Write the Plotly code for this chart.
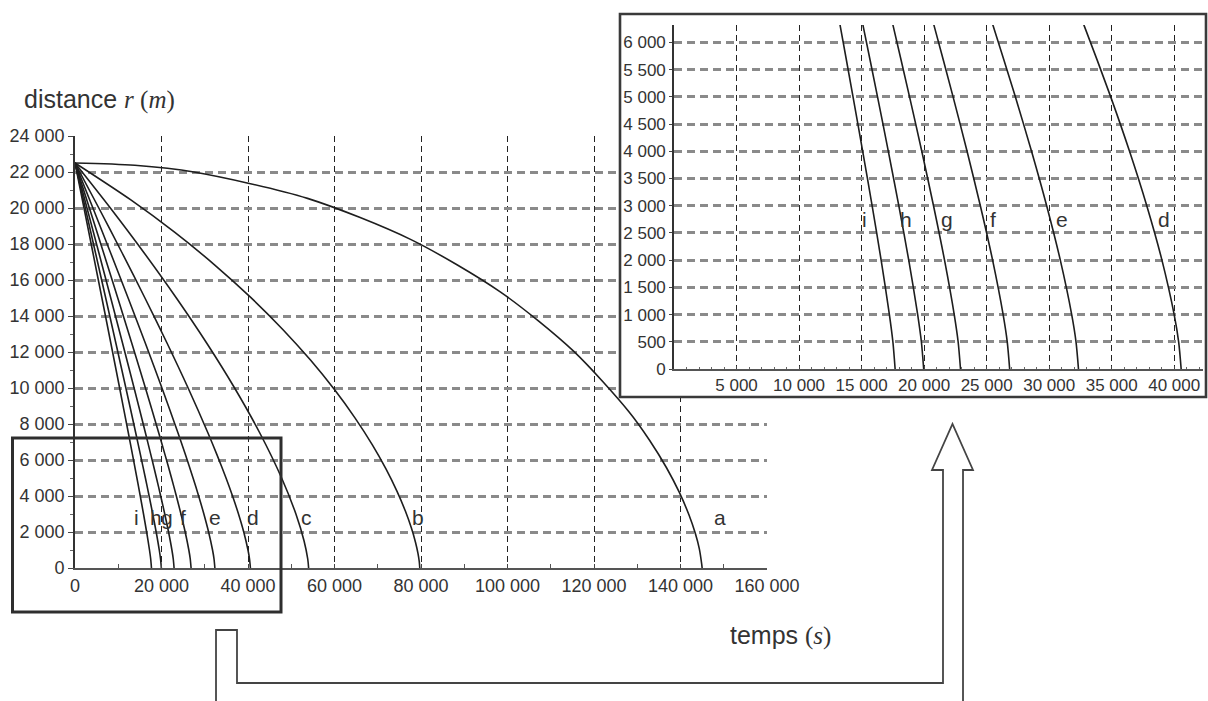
import plotly.graph_objects as go

# ---------------- data ----------------
curve_names = ["a", "b", "c", "d", "e", "f", "g", "h", "i"]

t_a = [0, 13821, 27486, 53754, 77694, 98404, 115271, 128026, 132878, 136767,
       139761, 141948, 143435, 144343, 144909, 145000]
r_a = [22500, 22374, 21998, 20535, 18243, 15327, 12046, 8694, 7085, 5570,
       4183, 2954, 1912, 1079, 204, 0]

t_b = [0, 12914, 23092, 32327, 40623, 47990, 54449, 60030, 64770, 68718,
       71928, 74461, 76387, 77782, 78724, 79299, 79596, 79722]
r_b = [22500, 20447, 18642, 16832, 15034, 13268, 11550, 9897, 8327, 6854,
       5494, 4259, 3164, 2217, 1430, 809, 361, 0]

t_c = [0, 8174, 16003, 23440, 30436, 36901, 42730, 47776, 51079, 52967, 53813, 54016]
r_c = [22500, 20000, 17500, 15000, 12500, 10000, 7500, 5000, 3000, 1500, 500, 0]

r_d_to_i = [22500, 20000, 17500, 15000, 12500, 10000, 7500, 6300, 5000, 4000,
            3000, 2000, 1000, 500, 0]
t_d = [0, 5507, 10906, 16171, 21270, 26152, 30744, 32811, 34920, 36426, 37804, 39017, 39995, 40353, 40554]
t_e = [0, 4146, 8245, 12285, 16248, 20107, 23817, 25524, 27296, 28589, 29799, 30890, 31801, 32146, 32343]
t_f = [0, 3323, 6621, 9889, 13115, 16284, 19369, 20806, 22317, 23434, 24496, 25476, 26318, 26647, 26840]
t_g = [0, 2772, 5530, 8269, 10984, 13664, 16293, 17528, 18836, 19813, 20752, 21632, 22408, 22720, 22909]
t_h = [0, 2377, 4745, 7101, 9443, 11762, 14047, 15126, 16275, 17138, 17975, 18770, 19485, 19781, 19965]
t_i = [0, 2081, 4156, 6222, 8279, 10320, 12338, 13294, 14316, 15088, 15841, 16563, 17223, 17502, 17681]

curves_t = [t_a, t_b, t_c, t_d, t_e, t_f, t_g, t_h, t_i]
curves_r = [r_a, r_b, r_c] + [r_d_to_i] * 6

# curve label positions
main_label_names = ["a", "b", "c", "d", "e", "f", "g", "h", "i"]
main_label_t = [149200, 79300, 53570, 41160, 32370, 24970, 21200, 18730, 14260]
main_label_r = 2830
inset_label_names = ["d", "e", "f", "g", "h", "i"]
inset_label_t = [39200, 31010, 25520, 21810, 18540, 15200]
inset_label_r = 2750

# tick labels
main_x_ticks = [0, 20000, 40000, 60000, 80000, 100000, 120000, 140000, 160000]
main_x_text = ["0", "20 000", "40 000", "60 000", "80 000", "100 000", "120 000", "140 000", "160 000"]
main_y_ticks = [0, 2000, 4000, 6000, 8000, 10000, 12000, 14000, 16000, 18000, 20000, 22000, 24000]
main_y_text = ["0", "2 000", "4 000", "6 000", "8 000", "10 000", "12 000", "14 000",
               "16 000", "18 000", "20 000", "22 000", "24 000"]
inset_x_ticks = [5000, 10000, 15000, 20000, 25000, 30000, 35000, 40000]
inset_x_text = ["5 000", "10 000", "15 000", "20 000", "25 000", "30 000", "35 000", "40 000"]
inset_y_ticks = [0, 500, 1000, 1500, 2000, 2500, 3000, 3500, 4000, 4500, 5000, 5500, 6000]
inset_y_text = ["0", "500", "1 000", "1 500", "2 000", "2 500", "3 000", "3 500", "4 000",
                "4 500", "5 000", "5 500", "6 000"]

# ---------------- figure ----------------
W, H = 1208, 701
def px(x):
    return x / W
def py(y):
    return (H - y) / H

fig = go.Figure()
LINE = dict(color="#1e1e1e", width=1.6, shape="spline", smoothing=0.8)

for name, tt, rr in zip(curve_names, curves_t, curves_r):
    fig.add_trace(go.Scatter(x=tt, y=rr, mode="lines", line=LINE, name=name,
                             xaxis="x", yaxis="y", showlegend=False, hoverinfo="skip"))
for name, tt, rr in zip(curve_names[3:], curves_t[3:], curves_r[3:]):
    fig.add_trace(go.Scatter(x=tt, y=rr, mode="lines", line=LINE, name=name,
                             xaxis="x2", yaxis="y2", showlegend=False, hoverinfo="skip"))

TXT = "#333333"
FONT = "Liberation Sans, Arial, sans-serif"
annotations = []
for n, t in zip(main_label_names, main_label_t):
    annotations.append(dict(x=t, y=main_label_r, xref="x", yref="y", text=n, showarrow=False,
                            font=dict(family=FONT, size=21, color=TXT)))
for n, t in zip(inset_label_names, inset_label_t):
    annotations.append(dict(x=t, y=inset_label_r, xref="x2", yref="y2", text=n, showarrow=False,
                            font=dict(family=FONT, size=21, color=TXT)))
SERIF = "font-family:'Liberation Serif', 'DejaVu Serif', serif"
annotations.append(dict(x=px(22), y=py(100), xref="paper", yref="paper", xanchor="left", yanchor="middle",
                        text=f"distance <span style=\"{SERIF}\"><i>r</i> (<i>m</i>)</span>", showarrow=False,
                        font=dict(family=FONT, size=25, color=TXT)))
annotations.append(dict(x=px(728), y=py(635), xref="paper", yref="paper", xanchor="left", yanchor="middle",
                        text=f"temps <span style=\"{SERIF}\">(<i>s</i>)</span>", showarrow=False,
                        font=dict(family=FONT, size=25, color=TXT)))

shapes = [
    # white background of the inset, hides the main grid under it
    dict(type="rect", xref="x", yref="y", layer="between", x0=126000, x1=175000, y0=9500, y1=27000,
         fillcolor="white", line=dict(width=0)),
    # inset frame
    dict(type="rect", xref="paper", yref="paper", layer="above",
         x0=px(620), x1=px(1206), y0=py(397), y1=py(14),
         line=dict(color="#3a3a3a", width=2.6), fillcolor="rgba(0,0,0,0)"),
    # zoom rectangle on the main chart
    dict(type="rect", xref="paper", yref="paper", layer="above",
         x0=px(12.5), x1=px(281), y0=py(612), y1=py(438),
         line=dict(color="#2e2e2e", width=3), fillcolor="rgba(0,0,0,0)"),
]
arrow_pts = [(216, 712), (216, 630), (237, 630), (237, 683), (943, 683), (943, 470), (932, 470),
             (952.5, 424), (973, 470), (963, 470), (963, 712)]
path = "M " + " L ".join(f"{px(x):.5f},{py(y):.5f}" for x, y in arrow_pts)
shapes.append(dict(type="path", xref="paper", yref="paper", layer="above", path=path,
                   line=dict(color="#444444", width=1.8), fillcolor="rgba(0,0,0,0)"))

tickfont_main = dict(family=FONT, size=18, color=TXT)
tickfont_inset = dict(family=FONT, size=17, color=TXT)
HGRID = dict(showgrid=True, gridcolor="#8a8a8a", gridwidth=2.6, griddash="8px,5px")
VGRID = dict(showgrid=True, gridcolor="#222222", gridwidth=1.4, griddash="6px,4px")
COMMON = dict(automargin=False, zeroline=False, showline=True)

fig.update_layout(
    template="none",
    width=W, height=H, autosize=False,
    margin=dict(l=0, r=0, t=0, b=0, pad=0, autoexpand=False),
    paper_bgcolor="white", plot_bgcolor="rgba(0,0,0,0)",
    showlegend=False,
    xaxis=dict(domain=[px(75), px(767)], range=[0, 160000], anchor="y",
               tickvals=main_x_ticks, ticktext=main_x_text, tickfont=tickfont_main,
               ticks="inside", ticklen=4, tickcolor="#444",
               minor=dict(dtick=10000, ticks="inside", ticklen=4, tickcolor="#555", showgrid=False),
               linecolor="#555", linewidth=2, **COMMON, **VGRID),
    yaxis=dict(domain=[py(568), py(136)], range=[0, 24000], anchor="x",
               tickvals=main_y_ticks, ticktext=main_y_text, tickfont=tickfont_main,
               ticks="outside", ticklen=5, tickcolor="#444",
               minor=dict(dtick=1000, ticks="outside", ticklen=3, tickcolor="#666", showgrid=False),
               linecolor="#333", linewidth=1.6, **COMMON, **HGRID),
    xaxis2=dict(domain=[px(674), px(1203)], range=[0, 42300], anchor="y2",
                tickvals=inset_x_ticks, ticktext=inset_x_text, tickfont=tickfont_inset,
                ticks="inside", ticklen=3, tickcolor="#444",
                minor=dict(dtick=1000, ticks="inside", ticklen=2, tickcolor="#666", showgrid=False),
                linecolor="#555", linewidth=2, **COMMON, **VGRID),
    yaxis2=dict(domain=[py(369), py(25)], range=[0, 6320], anchor="x2",
                tickvals=inset_y_ticks, ticktext=inset_y_text, tickfont=tickfont_inset,
                ticks="outside", ticklen=3, tickcolor="#444",
                linecolor="#333", linewidth=1.6, **COMMON, **HGRID),
    annotations=annotations,
    shapes=shapes,
)

post = """
document.documentElement.style.margin='0';document.body.style.margin='0';
document.body.style.overflow='hidden';document.documentElement.style.overflow='hidden';
var gd=document.getElementsByClassName('plotly-graph-div')[0];
gd.style.position='fixed';gd.style.left='0px';gd.style.top='0px';
Plotly.relayout(gd,{width:window.innerWidth,height:window.innerHeight});
"""
fig.write_html("out.html", config={"displayModeBar": False}, post_script=post)
